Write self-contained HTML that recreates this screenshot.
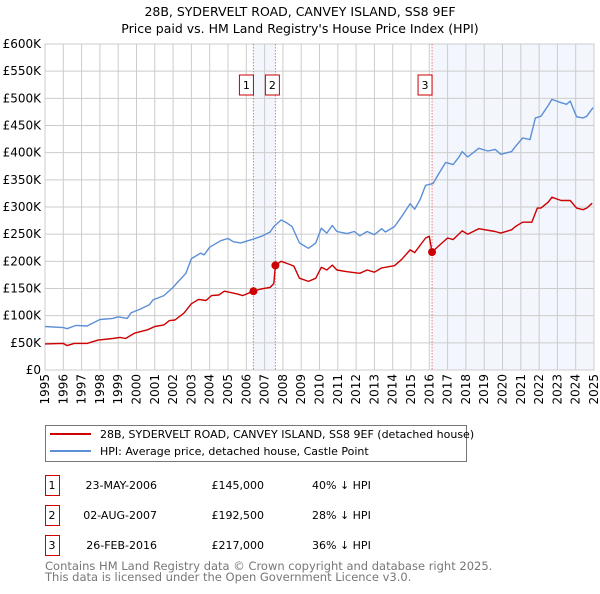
<!DOCTYPE html>
<html><head><meta charset="utf-8"><style>
body{margin:0;background:#fff;font-family:"DejaVu Sans","Liberation Sans",sans-serif;}
svg text{font-family:"DejaVu Sans","Liberation Sans",sans-serif;}
</style></head><body>
<svg id="chart" width="600" height="590" xmlns="http://www.w3.org/2000/svg">
<text x="300" y="16" text-anchor="middle" font-size="12.5">28B, SYDERVELT ROAD, CANVEY ISLAND, SS8 9EF</text>
<text x="300" y="33" text-anchor="middle" font-size="12.5">Price paid vs. HM Land Registry's House Price Index (HPI)</text>
<g id="plot"></g>
<g>
<rect x="45.5" y="425.5" width="421" height="36" fill="#fff" stroke="#777"/>
<line x1="50" y1="434" x2="91" y2="434" stroke="#cc0000" stroke-width="2"/>
<text x="100" y="438" font-size="11">28B, SYDERVELT ROAD, CANVEY ISLAND, SS8 9EF (detached house)</text>
<line x1="50" y1="451" x2="91" y2="451" stroke="#5b8fd6" stroke-width="2"/>
<text x="100" y="455" font-size="11">HPI: Average price, detached house, Castle Point</text>
</g>
<g id="table" font-size="11"></g>
<text x="45" y="570" font-size="11.5" fill="#777">Contains HM Land Registry data © Crown copyright and database right 2025.</text>
<text x="45" y="581" font-size="11.5" fill="#777">This data is licensed under the Open Government Licence v3.0.</text>
</svg>
<script>
const hpiYears=[1995,1996,1996.2,1996.7,1997.3,1998,1998.7,1999,1999.5,1999.7,2000.2,2000.7,2000.9,2001.5,2002,2002.2,2002.7,2003,2003.5,2003.7,2004,2004.6,2005,2005.3,2005.7,2006.3,2006.9,2007.3,2007.5,2007.9,2008.2,2008.5,2008.9,2009.4,2009.8,2010.1,2010.4,2010.7,2010.95,2011.5,2011.9,2012.2,2012.6,2013,2013.4,2013.6,2014.1,2014.5,2014.95,2015.2,2015.5,2015.8,2016.2,2016.6,2016.9,2017.3,2017.6,2017.8,2018.1,2018.7,2019.2,2019.6,2019.9,2020.5,2020.7,2021.1,2021.5,2021.8,2022.1,2022.5,2022.7,2023.2,2023.5,2023.7,2024.05,2024.4,2024.6,2024.95];
const hpiValues=[80,78,76,82,81,93,95,98,95,105,112,120,129,137,152,160,178,205,215,212,226,238,242,236,234,240,247,254,264,276,271,264,234,224,234,261,252,266,255,251,255,247,255,249,260,254,264,283,306,296,314,340,343,366,382,378,391,402,392,408,403,406,397,402,411,427,424,464,467,487,498,492,489,495,466,464,467,483];
const priceYears=[1995,1996,1996.2,1996.6,1997.3,1997.9,1998.7,1999.1,1999.4,1999.9,2000.6,2001,2001.5,2001.8,2002.1,2002.6,2003,2003.4,2003.8,2004.1,2004.5,2004.8,2005.1,2005.5,2005.8,2006.39,2006.8,2007.3,2007.5,2007.59,2007.9,2008.4,2008.6,2008.9,2009.4,2009.8,2010.1,2010.4,2010.7,2010.95,2011.5,2012.2,2012.6,2013,2013.4,2014.1,2014.5,2014.95,2015.2,2015.8,2016,2016.15,2016.6,2017,2017.3,2017.8,2018.1,2018.7,2019.6,2019.9,2020.5,2020.7,2021.1,2021.6,2021.9,2022.1,2022.5,2022.7,2023.2,2023.7,2024.05,2024.4,2024.6,2024.9];
const priceValues=[48,49,45,49,49,55,58,60,58,68,74,80,83,91,92,105,122,130,128,137,138,145,143,140,137,145,149,152,159,192.5,200,194,191,169,163,169,189,184,193,184,181,178,184,180,188,192,204,221,216,243,246,217,231,243,240,256,250,260,255,252,258,264,272,272,298,298,309,318,312,312,298,295,298,307];
const saleLabels=["1","2","3"];
const saleYears=[2006.39,2007.59,2016.15];
const saleValues=[145,192.5,217];
const saleDates=["23-MAY-2006","02-AUG-2007","26-FEB-2016"];
const salePrices=["£145,000","£192,500","£217,000"];
const saleHpi=["40% ↓ HPI","28% ↓ HPI","36% ↓ HPI"];
const yTicks=[0,50,100,150,200,250,300,350,400,450,500,550,600];
const yTickLabels=["£0","£50K","£100K","£150K","£200K","£250K","£300K","£350K","£400K","£450K","£500K","£550K","£600K"];
const xTicks=[1995,1996,1997,1998,1999,2000,2001,2002,2003,2004,2005,2006,2007,2008,2009,2010,2011,2012,2013,2014,2015,2016,2017,2018,2019,2020,2021,2022,2023,2024,2025];

const NS="http://www.w3.org/2000/svg";
const X0=45,X1=594,Y0=370,Y1=44;
const xs=y=>X0+(y-1995)/30*(X1-X0);
const ys=v=>Y0-v/600*(Y0-Y1);
const plot=document.getElementById('plot');
function mk(tag,attrs,parent){const e=document.createElementNS(NS,tag);for(const k in attrs)e.setAttribute(k,attrs[k]);(parent||plot).appendChild(e);return e;}
let s1=mk('rect',{x:xs(saleYears[0]),y:Y1,width:xs(saleYears[1])-xs(saleYears[0]),height:Y0-Y1,fill:'#f3f6fd'});


let s2=mk('rect',{x:xs(saleYears[2]),y:Y1,width:X1-xs(saleYears[2]),height:Y0-Y1,fill:'#f3f6fd'});


yTicks.forEach((v,i)=>{
 let g=mk('line',{x1:X0,x2:X1,y1:ys(v),y2:ys(v),stroke:'#cccccc'});
 
 
 let t=mk('text',{x:41,y:ys(v)+4,'text-anchor':'end','font-size':'12'});
 t.textContent=yTickLabels[i];
 
 
});
xTicks.forEach(y=>{
 let g=mk('line',{x1:xs(y),x2:xs(y),y1:Y1,y2:Y0,stroke:'#cccccc'});
 
 
 let t=mk('text',{transform:`translate(${xs(y)+4},374) rotate(-90)`,'text-anchor':'end','font-size':'12'});
 t.textContent=y;
 
 
});
let fr=mk('rect',{x:X0,y:Y1,width:X1-X0,height:Y0-Y1,fill:'none',stroke:'#cccccc'});


saleYears.forEach((y,i)=>{
 let l=mk('line',{x1:xs(y),x2:xs(y),y1:Y1,y2:Y0,stroke:'#ee7777','stroke-dasharray':'1.5,1.5','stroke-width':'1'});
 
 
 let r=mk('rect',{x:(i==1?xs(y)-10:xs(y)-14),y:75,width:14,height:20,fill:'#fff',stroke:'#cc0000'});
 
 
 let t=mk('text',{x:(i==1?xs(y)-3:xs(y)-7),y:89,'text-anchor':'middle','font-size':'11'});
 t.textContent=saleLabels[i];
 
 
});
function path(xv,yv,color,name){
 let d=xv.map((x,i)=>(i?'L':'M')+xs(x).toFixed(1)+','+ys(yv[i]).toFixed(1)).join('');
 let p=mk('path',{d:d,fill:'none',stroke:color,'stroke-width':'1.4','stroke-linejoin':'round'});
 
 
}
path(hpiYears,hpiValues,'#5b8fd6','hpi-line');
path(priceYears,priceValues,'#cc0000','price-line');
saleYears.forEach((y,i)=>{
 let c=mk('circle',{cx:xs(y),cy:ys(saleValues[i]),r:4,fill:'#cc0000'});
 
 
});
const tb=document.getElementById('table');
saleLabels.forEach((lab,i)=>{
 const y0=475+i*30;
 let r=mk('rect',{x:45.5,y:y0+0.5,width:14,height:20,fill:'#fff',stroke:'#cc0000'},tb);
 
 
 const cells=[[52,lab,'middle'],[157,saleDates[i],'end'],[264,salePrices[i],'end'],[312,saleHpi[i],'start']];
 cells.forEach(c=>{
  let t=mk('text',{x:c[0],y:y0+14,'text-anchor':c[2]},tb);
  t.textContent=c[1];
  
  
 });
});
</script>
</body></html>
